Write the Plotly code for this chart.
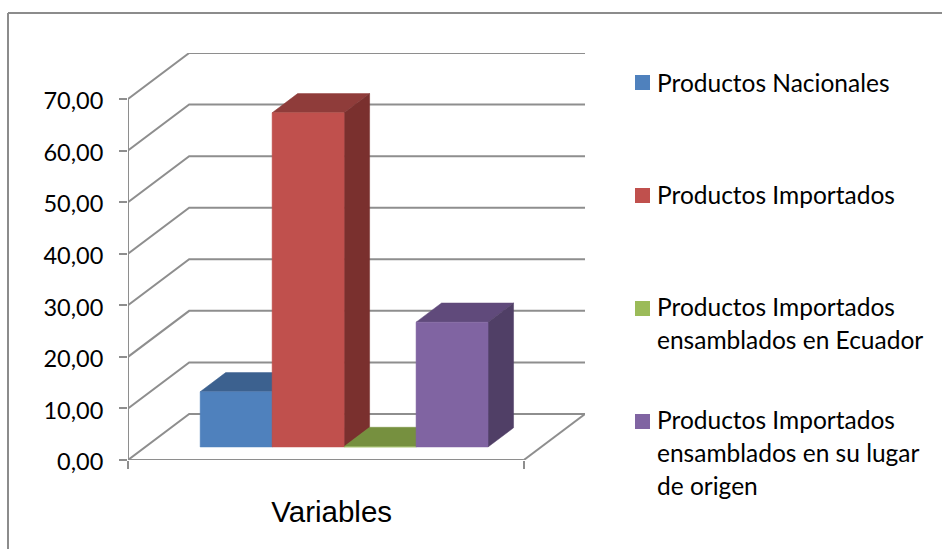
import plotly.graph_objects as go

# Data
categories = ["Productos Nacionales", "Productos Importados",
              "Productos Importados<br>ensamblados en Ecuador",
              "Productos Importados<br>ensamblados en su lugar<br>de origen"]
values = [10.7, 64.8, 0.1, 24.2]
tick_values = [0, 10, 20, 30, 40, 50, 60, 70]
axis_title = "Variables"

front_colors = ["#4F81BD", "#C0504D", "#9BBB59", "#8064A2"]
top_colors = ["#3C618F", "#8F3C3A", "#76903F", "#604A7B"]
side_colors = ["#335378", "#7A302E", "#64793A", "#503F66"]
GRID = "#8E8E8E"

# Oblique projection of the 3-D frame, expressed in axis units
X0, X1 = -1.25, 4.25          # floor front edge
DX, DY = 0.85, 8.92           # full depth of the floor
YMAX = 70
T_FRONT, T_BACK = 0.283, 0.70 # depth of bar faces
BAR = 0.5                     # half bar width
BAR_SHIFT = 0.012             # small sideways offset of the bar row

W, H = 942, 549
L, R, T, B = 128, 585, 53, 460


def px(x):
    return (x - L) / (R - L)


def py(y):
    return (B - y) / (B - T)


def poly(xs, ys, color):
    return go.Scatter(x=xs, y=ys, mode="lines", fill="toself", fillcolor=color,
                      line=dict(color=color, width=0.5), hoverinfo="skip",
                      showlegend=False, cliponaxis=False)


fig = go.Figure()

# Walls and floor
gx, gy = [], []
for v in tick_values:
    gx += [X0, X0 + DX, X1 + DX, None]
    gy += [v, v + DY, v + DY, None]
gx += [X1, X1 + DX, None, X0, X1, None, X0, X0]
gy += [0, DY, None, 0, 0, None, 0, YMAX]
fig.add_trace(go.Scatter(x=gx, y=gy, mode="lines", line=dict(color=GRID, width=2),
                         hoverinfo="skip", showlegend=False, cliponaxis=False))

# Bars
for i, v in enumerate(values):
    x_a = i - BAR + T_FRONT * DX + BAR_SHIFT
    x_b = i + BAR + T_FRONT * DX + BAR_SHIFT
    y_0 = T_FRONT * DY
    y_1 = y_0 + v
    sx = (T_BACK - T_FRONT) * DX
    sy = (T_BACK - T_FRONT) * DY
    fig.add_trace(poly([x_a, x_b, x_b + sx, x_a + sx, x_a],
                       [y_1, y_1, y_1 + sy, y_1 + sy, y_1], top_colors[i]))
    fig.add_trace(poly([x_b, x_b + sx, x_b + sx, x_b, x_b],
                       [y_0, y_0 + sy, y_1 + sy, y_1, y_0], side_colors[i]))
    fig.add_trace(poly([x_a, x_b, x_b, x_a, x_a],
                       [y_0, y_0, y_1, y_1, y_0], front_colors[i]))

# Legend
LEG_FONT = "Lato, sans-serif"
text_tops = [67, 179, 291, 404]
swatch_tops = [75, 188, 301, 414]
annotations = []
shapes = [dict(type="line", xref="paper", yref="paper", x0=px(8), x1=px(942), y0=py(13), y1=py(13),
               line=dict(color="#8C8C8C", width=2), layer="below"),
          dict(type="line", xref="paper", yref="paper", x0=px(8), x1=px(8), y0=py(13), y1=py(549),
               line=dict(color="#8C8C8C", width=2), layer="below")]
for name, color, top, stop in zip(categories, front_colors, text_tops, swatch_tops):
    annotations.append(dict(xref="paper", yref="paper", x=px(656), y=py(top), xanchor="left", yanchor="top",
                            align="left", showarrow=False, borderpad=0,
                            text=name.replace("<br>", "</span><br><span style='font-size:24.5px'>").join(
                                ["<span style='font-size:24.5px'>", "</span>"]),
                            font=dict(family=LEG_FONT, size=25.4, color="#000000")))
    shapes.append(dict(type="rect", xref="paper", yref="paper", x0=px(635), x1=px(650),
                       y0=py(stop), y1=py(stop + 15), fillcolor=color, line=dict(width=0)))

fig.update_layout(
    width=W, height=H, margin=dict(l=L, r=W - R, t=T, b=H - B, autoexpand=False),
    paper_bgcolor="white", plot_bgcolor="white", separators=",.", showlegend=False,
    shapes=shapes, annotations=annotations,
    xaxis=dict(range=[X0, X1 + DX], showgrid=False, zeroline=False, showline=False,
               tickmode="array", tickvals=[1.58], ticktext=[axis_title], ticks="", ticklen=0,
               tickfont=dict(family="Liberation Sans, Arial", size=29.5, color="#000000"),
               ticklabelstandoff=31,
               minor=dict(tickmode="array", tickvals=[X0, X1], ticks="outside", ticklen=8,
                          tickcolor=GRID, tickwidth=2, showgrid=False)),
    yaxis=dict(range=[0, YMAX + DY], showgrid=False, zeroline=False, showline=False,
               tickmode="array", tickvals=tick_values, tickformat=".2f", ticks="outside",
               ticklen=8, tickwidth=2, tickcolor=GRID, ticklabelstandoff=11, ticklabelshift=2,
               tickfont=dict(family=LEG_FONT, size=23.5, color="#000000")),
)

fig.write_html("out.html", config=dict(displayModeBar=False),
               post_script="document.body.style.margin='0';document.body.style.overflow='hidden';")
